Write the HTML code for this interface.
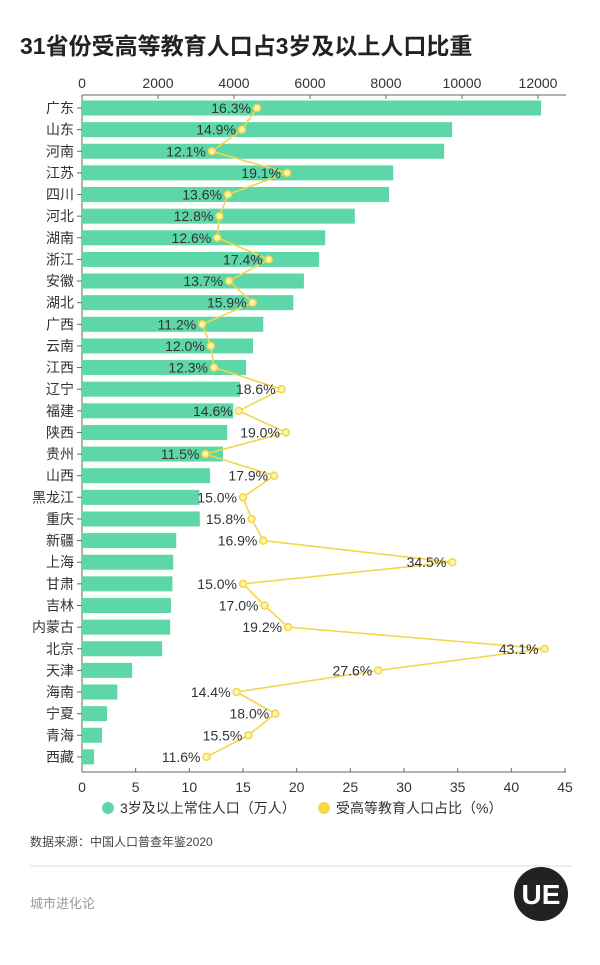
<!DOCTYPE html>
<html><head><meta charset="utf-8">
<style>
body{margin:0;background:#fff;width:600px;height:960px;overflow:hidden;font-family:"Liberation Sans","Noto Sans CJK SC",sans-serif;}
svg text{font-family:"Liberation Sans","Noto Sans CJK SC",sans-serif;}
</style></head>
<body>
<svg id="chart" width="600" height="960" xmlns="http://www.w3.org/2000/svg">
<text x="20" y="54" font-size="23" font-weight="bold" fill="#222">31省份受高等教育人口占3岁及以上人口比重</text>
<g id="plot"></g>
<g>
<circle cx="108" cy="808" r="6" fill="#5dd6a8"/>
<text x="120" y="813" font-size="14" fill="#333">3岁及以上常住人口（万人）</text>
<circle cx="324" cy="808" r="6" fill="#f5d94a"/>
<text x="336" y="813" font-size="14" fill="#333">受高等教育人口占比（%）</text>
</g>
<text x="30" y="846" font-size="12" fill="#444">数据来源：中国人口普查年鉴2020</text>
<line x1="30" y1="866" x2="572" y2="866" stroke="#ddd" stroke-width="1"/>
<text x="30" y="908" font-size="13" fill="#999">城市进化论</text>
<g>
<circle cx="541" cy="894" r="27" fill="#222"/>
<text x="541" y="904" font-size="28" font-weight="bold" fill="#fff" text-anchor="middle">UE</text>
</g>
</svg>
<script>
const provinces=["广东","山东","河南","江苏","四川","河北","湖南","浙江","安徽","湖北","广西","云南","江西","辽宁","福建","陕西","贵州","山西","黑龙江","重庆","新疆","上海","甘肃","吉林","内蒙古","北京","天津","海南","宁夏","青海","西藏"];
const population=[12080,9740,9530,8190,8080,7180,6400,6240,5840,5560,4770,4500,4320,4160,3980,3820,3710,3370,3090,3100,2480,2400,2380,2340,2320,2110,1320,930,660,530,320];
const percent=[16.3,14.9,12.1,19.1,13.6,12.8,12.6,17.4,13.7,15.9,11.2,12.0,12.3,18.6,14.6,19.0,11.5,17.9,15.0,15.8,16.9,34.5,15.0,17.0,19.2,43.1,27.6,14.4,18.0,15.5,11.6];
const popTicks=[0,2000,4000,6000,8000,10000,12000];
const pctTicks=[0,5,10,15,20,25,30,35,40,45];

const NS="http://www.w3.org/2000/svg";
const g=document.getElementById('plot');
const X0=82;
const xPop=v=>X0+v*0.038;
const xPct=v=>X0+v*(483/45);
const yRow=i=>108+i*21.63;
function el(tag,attrs){const e=document.createElementNS(NS,tag);for(const k in attrs)e.setAttribute(k,attrs[k]);g.appendChild(e);return e;}

let a=el('line',{x1:X0,y1:95,x2:566,y2:95,stroke:'#666','stroke-width':1});


popTicks.forEach(t=>{
  const x=xPop(t);
  const tk=el('line',{x1:x,y1:95,x2:x,y2:99,stroke:'#666'});
  
  
  const tx=el('text',{x:x,y:88,'font-size':14,fill:'#333','text-anchor':'middle'});
  tx.textContent=t;
  
  
});
a=el('line',{x1:X0,y1:772,x2:566,y2:772,stroke:'#666','stroke-width':1});


pctTicks.forEach(t=>{
  const x=xPct(t);
  const tk=el('line',{x1:x,y1:768,x2:x,y2:772,stroke:'#666'});
  
  
  const tx=el('text',{x:x,y:792,'font-size':14,fill:'#333','text-anchor':'middle'});
  tx.textContent=t;
  
  
});
a=el('line',{x1:X0,y1:95,x2:X0,y2:772,stroke:'#666'});


provinces.forEach((p,i)=>{
  const y=yRow(i);
  const r=el('rect',{x:X0,y:y-7.5,width:xPop(population[i])-X0,height:15,fill:'#5dd6a8'});
  
  
  const tk=el('line',{x1:X0-5,y1:y,x2:X0,y2:y,stroke:'#666'});
  
  
  const tx=el('text',{x:X0-8,y:y+5,'font-size':14,fill:'#333','text-anchor':'end'});
  tx.textContent=p;
  
  
});
const pts=percent.map((v,i)=>xPct(v)+','+yRow(i)).join(' ');
const pl=el('polyline',{points:pts,fill:'none',stroke:'#f2d64b','stroke-width':1.6});


percent.forEach((v,i)=>{
  const x=xPct(v),y=yRow(i);
  const c=el('circle',{cx:x,cy:y,r:3.5,fill:'#fff3a8',stroke:'#f2d64b','stroke-width':1.5});
  
  
  const tx=el('text',{x:x-6,y:y+5,'font-size':14,fill:'#333','text-anchor':'end'});
  tx.textContent=v.toFixed(1)+'%';
  
  
});
</script>
</body></html>
